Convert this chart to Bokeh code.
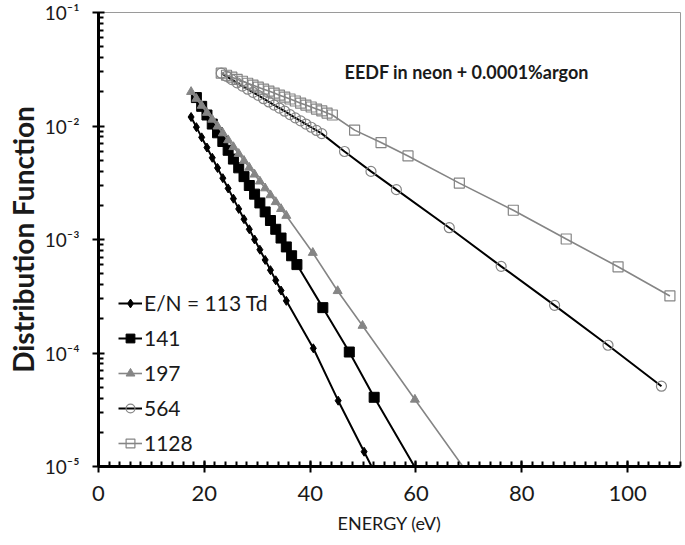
from bokeh.plotting import figure
from bokeh.models import FixedTicker, Legend, LegendItem, Label
from bokeh.embed import file_html
from bokeh.resources import INLINE

# ---- data ----
e113 = [17.5, 18.5, 19.5, 20.5, 21.5, 22.5, 23.5, 24.5, 25.5, 26.5, 27.5, 28.5, 29.5,
        30.5, 31.5, 32.5, 33.5, 34.5, 35.5, 40.6, 45.3, 50.2, 55.2]
f113 = [1.20e-2, 9.77e-3, 7.94e-3, 6.46e-3, 5.25e-3, 4.27e-3, 3.47e-3, 2.82e-3, 2.29e-3,
        1.86e-3, 1.51e-3, 1.23e-3, 1.00e-3, 8.13e-4, 6.61e-4, 5.37e-4, 4.37e-4, 3.55e-4,
        2.88e-4, 1.10e-4, 3.80e-5, 1.35e-5, 4.7e-6]

e141 = [18.5, 19.5, 20.5, 21.5, 22.5, 23.5, 24.5, 25.5, 26.5, 27.5, 28.5, 29.5, 30.5,
        31.5, 32.5, 33.5, 34.5, 35.5, 36.5, 37.5, 42.4, 47.4, 52.1, 61.0]
f141 = [1.78e-2, 1.49e-2, 1.25e-2, 1.04e-2, 8.71e-3, 7.30e-3, 6.11e-3, 5.11e-3, 4.28e-3,
        3.58e-3, 2.99e-3, 2.51e-3, 2.10e-3, 1.75e-3, 1.47e-3, 1.23e-3, 1.03e-3, 8.60e-4,
        7.19e-4, 6.01e-4, 2.51e-4, 1.02e-4, 4.07e-5, 7.9e-6]

e197 = [17.5, 18.5, 19.5, 20.5, 21.5, 22.5, 23.5, 24.5, 25.5, 26.5, 27.5, 28.5, 29.5,
        30.5, 31.5, 32.5, 33.5, 34.5, 35.5, 40.5, 45.2, 49.9, 59.8, 69.8]
f197 = [2.00e-2, 1.74e-2, 1.51e-2, 1.31e-2, 1.14e-2, 9.93e-3, 8.64e-3, 7.51e-3, 6.53e-3,
        5.69e-3, 4.94e-3, 4.30e-3, 3.74e-3, 3.25e-3, 2.83e-3, 2.46e-3, 2.14e-3, 1.86e-3,
        1.62e-3, 7.64e-4, 3.52e-4, 1.74e-4, 3.89e-5, 8.7e-6]

e564 = [23.2, 24.2, 25.2, 26.2, 27.2, 28.2, 29.2, 30.2, 31.2, 32.2, 33.2, 34.2, 35.2,
        36.2, 37.2, 38.2, 39.2, 40.2, 41.2, 42.2, 46.5, 51.5, 56.3, 66.3, 76.1, 86.2,
        96.3, 106.4]
f564 = [2.92e-2, 2.74e-2, 2.56e-2, 2.40e-2, 2.25e-2, 2.11e-2, 1.98e-2, 1.86e-2, 1.74e-2,
        1.63e-2, 1.53e-2, 1.44e-2, 1.35e-2, 1.26e-2, 1.18e-2, 1.11e-2, 1.04e-2, 9.75e-3,
        9.14e-3, 8.57e-3, 5.96e-3, 3.98e-3, 2.75e-3, 1.27e-3, 5.8e-4, 2.63e-4, 1.17e-4,
        5.1e-5]

e1128 = [23.2, 24.2, 25.2, 26.2, 27.2, 28.2, 29.2, 30.2, 31.2, 32.2, 33.2, 34.2, 35.2,
         36.2, 37.2, 38.2, 39.2, 40.2, 41.2, 42.2, 43.2, 44.2, 48.4, 53.4, 58.5, 68.2,
         78.4, 88.4, 98.2, 108.0]
f1128 = [2.92e-2, 2.80e-2, 2.69e-2, 2.58e-2, 2.48e-2, 2.38e-2, 2.29e-2, 2.20e-2, 2.11e-2,
         2.03e-2, 1.95e-2, 1.87e-2, 1.80e-2, 1.73e-2, 1.66e-2, 1.59e-2, 1.53e-2, 1.47e-2,
         1.41e-2, 1.36e-2, 1.30e-2, 1.25e-2, 9.2e-3, 7.15e-3, 5.45e-3, 3.14e-3, 1.81e-3,
         1.01e-3, 5.75e-4, 3.18e-4]

legend_labels = ["E/N = 113 Td", "141", "197", "564", "1128"]
x_ticks = [0, 20, 40, 60, 80, 100]
x_minor = list(range(0, 111, 2))
y_ticks = [1e-5, 1e-4, 1e-3, 1e-2, 1e-1]
y_tick_labels = ["10\u207b\u2075", "10\u207b\u2074", "10\u207b\u00b3", "10\u207b\u00b2", "10\u207b\u00b9"]
y_minor = [k * d for d in [1e-5, 1e-4, 1e-3, 1e-2] for k in range(2, 10)]
annotation = "EEDF in neon + 0.0001%argon"
x_title = "ENERGY (eV)"
y_title = "Distribution Function"

FONT = "Lato"
GRAY = "#858585"

p = figure(width=685, height=545, x_range=(0, 110), y_range=(1e-5, 1e-1),
           y_axis_type="log", output_backend="svg", toolbar_location=None,
           title=None, min_border_left=98, min_border_right=5,
           min_border_top=12, min_border_bottom=79)
p.background_fill_color = "white"
p.border_fill_color = "white"
p.outline_line_color = "#9a9a9a"
p.outline_line_width = 1
p.xgrid.visible = False
p.ygrid.visible = False

# series
l113 = p.line(e113, f113, line_color="black", line_width=2)
s113 = p.scatter(e113, f113, marker="diamond", size=9, fill_color="black", line_color="black")
l141 = p.line(e141, f141, line_color="black", line_width=2)
s141 = p.scatter(e141, f141, marker="square", size=10, fill_color="black", line_color="black")
l197 = p.line(e197, f197, line_color=GRAY, line_width=1.6)
s197 = p.scatter(e197, f197, marker="triangle", size=9, fill_color=GRAY, line_color=GRAY)
l564 = p.line(e564, f564, line_color="black", line_width=2)
s564 = p.scatter(e564, f564, marker="circle", size=10, fill_color=None, line_color=GRAY, line_width=1.2)
l1128 = p.line(e1128, f1128, line_color=GRAY, line_width=1.6)
s1128 = p.scatter(e1128, f1128, marker="square", size=10, fill_color=None, line_color=GRAY, line_width=1.2)

items = [LegendItem(label=legend_labels[0], renderers=[l113, s113]),
         LegendItem(label=legend_labels[1], renderers=[l141, s141]),
         LegendItem(label=legend_labels[2], renderers=[l197, s197]),
         LegendItem(label=legend_labels[3], renderers=[l564, s564]),
         LegendItem(label=legend_labels[4], renderers=[l1128, s1128])]
legend = Legend(items=items, location=(20, 11))
legend.background_fill_alpha = 0
legend.border_line_color = None
legend.padding = 0
legend.margin = 0
legend.spacing = 10
legend.glyph_width = 24
legend.glyph_height = 22
legend.label_height = 22
legend.label_standoff = 2
legend.label_text_font = FONT
legend.label_text_font_size = "21px"
legend.label_text_color = "#1a1a1a"
p.add_layout(legend, "center")

p.add_layout(Label(x=46.5, y=2.98e-2, text=annotation, text_font=FONT,
                   text_font_style="bold", text_font_size="18px",
                   text_baseline="middle", text_align="left", text_color="#1a1a1a"))

# axes
xa = p.xaxis[0]
xa.ticker = FixedTicker(ticks=x_ticks, minor_ticks=x_minor)
xa.axis_label = x_title
xa.axis_label_text_font = FONT
xa.axis_label_text_font_style = "normal"
xa.axis_label_text_font_size = "18px"
xa.axis_label_standoff = 8
xa.major_label_text_font = FONT
xa.major_label_text_font_size = "22px"
xa.major_label_standoff = 13
ya = p.yaxis[0]
ya.ticker = FixedTicker(ticks=y_ticks, minor_ticks=y_minor)
ya.major_label_overrides = {t: s for t, s in zip(y_ticks, y_tick_labels)}
ya.axis_label = y_title
ya.axis_label_text_font = FONT
ya.axis_label_text_font_style = "bold"
ya.axis_label_text_font_size = "28px"
ya.axis_label_standoff = 2
ya.major_label_text_font = FONT
ya.major_label_text_font_size = "19px"
ya.major_label_standoff = 13
for ax in (xa, ya):
    ax.axis_line_color = "black"
    ax.axis_line_width = 3
    ax.major_tick_line_color = "black"
    ax.major_tick_line_width = 2
    ax.major_tick_in = 6
    ax.major_tick_out = 6
    ax.minor_tick_line_color = "black"
    ax.minor_tick_line_width = 2
    ax.minor_tick_in = 5
    ax.minor_tick_out = 0
    ax.major_label_text_color = "#1a1a1a"
    ax.axis_label_text_color = "#1a1a1a"

open("out.html", "w").write(file_html(p, INLINE))
